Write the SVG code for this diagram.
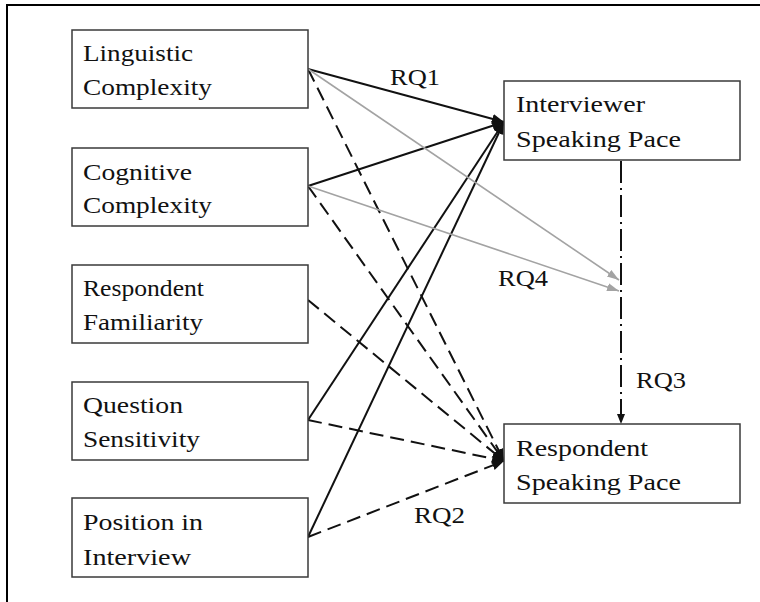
<svg xmlns="http://www.w3.org/2000/svg" width="760" height="602" viewBox="0 0 760 602">
<style>
.box{fill:#fff;stroke:#3a3a3a;stroke-width:1.5}
text{font-size:24px;fill:#111}
.s{fill:none;stroke:#111;stroke-width:2}
.d{fill:none;stroke:#111;stroke-width:2;stroke-dasharray:14 7}
.g{fill:none;stroke:#a3a3a3;stroke-width:1.6}
.dd{fill:none;stroke:#111;stroke-width:2;stroke-dasharray:22 5 2 5}
</style>
<defs>
<marker id="ab" markerUnits="userSpaceOnUse" markerWidth="14" markerHeight="12" refX="12" refY="5" orient="auto" viewBox="0 0 14 10">
<path d="M0,0 L12,5 L0,10 Z" fill="#111"/>
</marker>
<marker id="ag" markerUnits="userSpaceOnUse" markerWidth="14" markerHeight="10" refX="12" refY="4" orient="auto" viewBox="0 0 14 8">
<path d="M0,0 L12,4 L0,8 Z" fill="#a3a3a3"/>
</marker>
<marker id="av" markerUnits="userSpaceOnUse" markerWidth="12" markerHeight="10" refX="10" refY="4" orient="auto" viewBox="0 0 12 8">
<path d="M0,0 L10,4 L0,8 Z" fill="#111"/>
</marker>
</defs>
<g id="frame">
<line x1="6" y1="5" x2="760" y2="5" stroke="#000" stroke-width="2"/>
<line x1="7" y1="4" x2="7" y2="602" stroke="#000" stroke-width="2"/>
</g>
<g id="connectors" font-family="Liberation Serif, serif">
<line class="s" x1="308" y1="69" x2="504" y2="122" marker-end="url(#ab)"/>
<line class="s" x1="308" y1="186" x2="504" y2="122" marker-end="url(#ab)"/>
<line class="s" x1="308" y1="420" x2="504" y2="122" marker-end="url(#ab)"/>
<line class="s" x1="308" y1="537" x2="504" y2="122" marker-end="url(#ab)"/>
<line class="d" x1="308" y1="69" x2="504" y2="461" marker-end="url(#ab)"/>
<line class="d" x1="308" y1="186" x2="504" y2="461" marker-end="url(#ab)"/>
<line class="d" x1="308" y1="300" x2="504" y2="461" marker-end="url(#ab)"/>
<line class="d" x1="308" y1="420" x2="504" y2="461" marker-end="url(#ab)"/>
<line class="d" x1="308" y1="537" x2="504" y2="461" marker-end="url(#ab)"/>
<line class="g" x1="308" y1="69" x2="619" y2="280" marker-end="url(#ag)"/>
<line class="g" x1="308" y1="186" x2="619" y2="291" marker-end="url(#ag)"/>
<line class="dd" x1="621" y1="161" x2="621" y2="424" marker-end="url(#av)"/>
<text x="390" y="85" textLength="50" lengthAdjust="spacingAndGlyphs">RQ1</text>
<text x="498" y="286" textLength="50" lengthAdjust="spacingAndGlyphs">RQ4</text>
<text x="636" y="388" textLength="50" lengthAdjust="spacingAndGlyphs">RQ3</text>
<text x="414" y="523" textLength="51" lengthAdjust="spacingAndGlyphs">RQ2</text>
</g>
<g id="linguistic" font-family="Liberation Serif, serif">
<rect class="box" x="72" y="30" width="236" height="78"/>
<text x="83" y="61" textLength="110" lengthAdjust="spacingAndGlyphs">Linguistic</text>
<text x="83" y="95" textLength="129" lengthAdjust="spacingAndGlyphs">Complexity</text>
</g>
<g id="cognitive" font-family="Liberation Serif, serif">
<rect class="box" x="72" y="148" width="236" height="78"/>
<text x="83" y="180" textLength="109" lengthAdjust="spacingAndGlyphs">Cognitive</text>
<text x="83" y="213" textLength="129" lengthAdjust="spacingAndGlyphs">Complexity</text>
</g>
<g id="familiarity" font-family="Liberation Serif, serif">
<rect class="box" x="72" y="265" width="236" height="78"/>
<text x="83" y="296" textLength="121" lengthAdjust="spacingAndGlyphs">Respondent</text>
<text x="83" y="330" textLength="120" lengthAdjust="spacingAndGlyphs">Familiarity</text>
</g>
<g id="sensitivity" font-family="Liberation Serif, serif">
<rect class="box" x="72" y="382" width="236" height="78"/>
<text x="83" y="413" textLength="100" lengthAdjust="spacingAndGlyphs">Question</text>
<text x="83" y="447" textLength="117" lengthAdjust="spacingAndGlyphs">Sensitivity</text>
</g>
<g id="position" font-family="Liberation Serif, serif">
<rect class="box" x="72" y="498" width="236" height="79"/>
<text x="83" y="530" textLength="120" lengthAdjust="spacingAndGlyphs">Position in</text>
<text x="83" y="565" textLength="108" lengthAdjust="spacingAndGlyphs">Interview</text>
</g>
<g id="interviewer" font-family="Liberation Serif, serif">
<rect class="box" x="504" y="81" width="236" height="79"/>
<text x="516" y="112" textLength="129" lengthAdjust="spacingAndGlyphs">Interviewer</text>
<text x="516" y="147" textLength="165" lengthAdjust="spacingAndGlyphs">Speaking Pace</text>
</g>
<g id="respondent" font-family="Liberation Serif, serif">
<rect class="box" x="504" y="424" width="236" height="79"/>
<text x="516" y="456" textLength="132" lengthAdjust="spacingAndGlyphs">Respondent</text>
<text x="516" y="490" textLength="165" lengthAdjust="spacingAndGlyphs">Speaking Pace</text>
</g>
</svg>
